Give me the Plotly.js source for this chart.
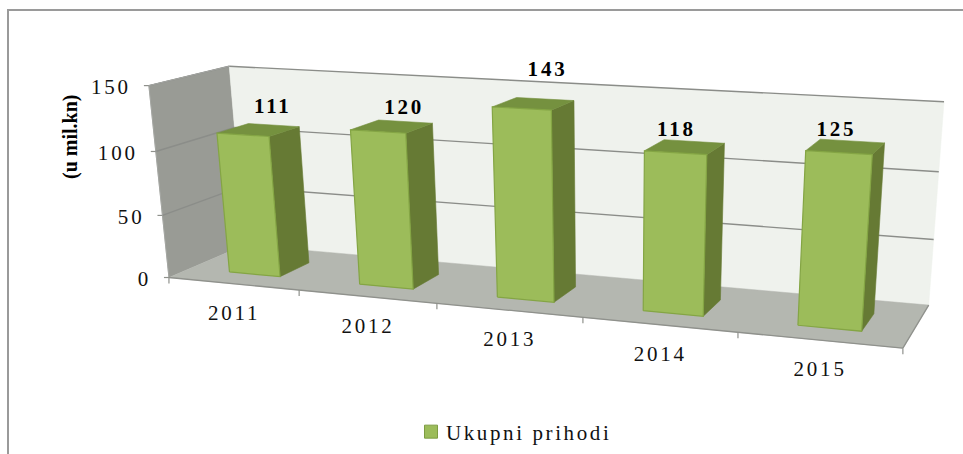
<!DOCTYPE html>
<html><head><meta charset="utf-8">
<script src="https://cdn.plot.ly/plotly-3.0.1.min.js"></script>
<style>
html,body{margin:0;padding:0;background:#fff}
#c{width:963px;height:454px}
.textpoint text{letter-spacing:2.8px}
.legendtext{letter-spacing:2.6px}
.legendsymbols{transform:translateX(5px)}
.scatterlayer .trace .fills,.scatterlayer .trace .lines{filter:blur(.5px)}
</style></head><body><div id="c"></div>
<script>
const categories=['2011','2012','2013','2014','2015'];
const revenue=[111,120,143,118,125];
const valueTicks=[0,50,100,150];
const seriesName='Ukupni prihodi';
const axisTitle='(u mil.kn)';
const valueMax=150;

// perspective camera: fitted from the box corners of the 3-D plot (category, value fraction, depth) -> page pixel
const fit=[[0,0,0,167,277],[0,1,0,151,85],[0,2/3,0,157,152],[0,1/3,0,161,216],
[0,0,1,249,244],[0,1,1,229,67],[0,2/3,1,232,127],[0,1/3,1,238,187],
[5,0,1,928,306],[5,1,1,944,101],[5,2/3,1,939,172],[5,1/3,1,934,240],
[5,0,0,903,347],[1,0,0,299,291],[2,0,0,437,304],[3,0,0,583,317],[4,0,0,738,332]];
function solveCamera(){
  const n=11,A=Array.from({length:n},()=>Array(n+1).fill(0));
  const add=(r,b)=>{for(let i=0;i<n;i++){for(let j=0;j<n;j++)A[i][j]+=r[i]*r[j];A[i][n]+=r[i]*b;}};
  fit.forEach(([X,Y,Z,u,v])=>{
    add([X,Y,Z,1,0,0,0,0,-u*X,-u*Y,-u*Z],u);
    add([0,0,0,0,X,Y,Z,1,-v*X,-v*Y,-v*Z],v);
  });
  for(let i=0;i<n;i++){
    let m=i;for(let k=i+1;k<n;k++)if(Math.abs(A[k][i])>Math.abs(A[m][i]))m=k;
    [A[i],A[m]]=[A[m],A[i]];
    for(let k=0;k<n;k++){if(k===i)continue;const f=A[k][i]/A[i][i];for(let j=i;j<=n;j++)A[k][j]-=f*A[i][j];}
  }
  return A.map((r,i)=>r[n]/r[i]);
}
const p=solveCamera();
function proj(X,v,Z){const Y=v/valueMax,w=p[8]*X+p[9]*Y+p[10]*Z+1;
  return [(p[0]*X+p[1]*Y+p[2]*Z+p[3])/w,(p[4]*X+p[5]*Y+p[6]*Z+p[7])/w];}

function poly(corners){const x=[],y=[];corners.forEach(c=>{const q=proj(...c);x.push(q[0]);y.push(q[1]);});x.push(x[0]);y.push(y[0]);return {x,y};}
function polys(list){const x=[],y=[];list.forEach(c=>{const q=poly(c);x.push(...q.x,null);y.push(...q.y,null);});return {x,y};}
const base={type:'scatter',showlegend:false,hoverinfo:'skip'};
function face(list,fill,line,w){const q=polys(list);return {...base,...q,mode:'lines',fill:'toself',fillcolor:fill,line:{color:line,width:w}};}
function seg(list,color,w){const x=[],y=[];list.forEach(([a,b])=>{const s=proj(...a),e=proj(...b);x.push(s[0],e[0],null);y.push(s[1],e[1],null);});return {...base,x,y,mode:'lines',line:{color,width:w}};}

const N=categories.length,Vm=valueMax;
const x0=0.31,x1=0.705,d0=0.27,d1=0.68;
const traces=[];
traces.push(face([[[0,0,0],[0,Vm,0],[0,Vm,1],[0,0,1]]],'#999B95','#999B95',0.5));
traces.push(face([[[0,0,1],[0,Vm,1],[N,Vm,1],[N,0,1]]],'#EFF2ED','#EFF2ED',0.5));
traces.push(face([[[0,0,0],[0,0,1],[N,0,1],[N,0,0]]],'#B4B7B0','#B4B7B0',0.5));
// gridlines
const grid=[];valueTicks.filter(v=>v>0).forEach(v=>{grid.push([[0,v,0],[0,v,1]]);grid.push([[0,v,1],[N,v,1]]);});
traces.push(seg(grid,'#8B8D89',1.4));
traces.push(seg([[[0,0,0],[0,Vm,0]],[[0,Vm,0],[0,Vm,1]]],'#A4A6A2',1));
traces.push(seg([[[0,0,0],[N,0,0]],[[N,0,0],[N,0,1]]],'#8F918C',1.3));
// bars
const side=[],top_=[],front=[];
revenue.forEach((v,i)=>{const a=i+x0,b=i+x1;
  side.push([[b,0,d0],[b,v,d0],[b,v,d1],[b,0,d1]]);
  top_.push([[a,v,d0],[a,v,d1],[b,v,d1],[b,v,d0]]);
  front.push([[a,0,d0],[a,v,d0],[b,v,d0],[b,0,d0]]);
});
traces.push(face(side,'#667A34','#667A34',0.6));
traces.push(face(top_,'#75913F','#75913F',0.6));
traces.push(face(front,'#9CBC5A','#84A544',1.2));
// axis tick marks
const tm=[];
valueTicks.forEach(v=>{const q=proj(0,v,0);tm.push({x:[q[0]-5,q[0],null],y:[q[1],q[1],null]});});
traces.push({...base,x:tm.flatMap(t=>t.x),y:tm.flatMap(t=>t.y),mode:'lines',line:{color:'#8F918C',width:1.2}});
const ct=[];for(let i=0;i<=N;i++){const q=proj(i,0,0);ct.push({x:[q[0],q[0],null],y:[q[1],q[1]+6,null]});}
traces.push({...base,x:ct.flatMap(t=>t.x),y:ct.flatMap(t=>t.y),mode:'lines',line:{color:'#8F918C',width:1.2}});

const serif='"Liberation Serif","Times New Roman",serif';
// value tick labels
const vq=valueTicks.map(v=>proj(0,v,0));
traces.push({...base,mode:'text',x:vq.map(q=>q[0]-18),y:vq.map(q=>q[1]+3),text:valueTicks.map(String),textposition:'middle left',textfont:{family:serif,size:21,color:'#111'}});
// category labels
const cq=categories.map((c,i)=>proj(i+.5,0,0));
traces.push({...base,mode:'text',x:cq.map(q=>q[0]+1),y:cq.map(q=>q[1]+31),text:categories,textposition:'middle center',textfont:{family:serif,size:21,color:'#111'}});
// data labels
const lift=[19,15,30,13,12];
const shift=[6,5,8,-13,-12];
const dq=revenue.map((v,i)=>proj(i+.5,v,.6));
traces.push({...base,mode:'text',x:dq.map((q,i)=>q[0]+shift[i]),y:dq.map((q,i)=>q[1]-lift[i]),text:revenue.map(String),textposition:'middle center',textfont:{family:serif,size:21,color:'#000',weight:700}});
// legend entry
traces.push({type:'scatter',mode:'markers',x:[null],y:[null],name:seriesName,showlegend:true,hoverinfo:'skip',marker:{symbol:'square',size:13,color:'#9CBC5A',line:{color:'#7D9C42',width:1}}});

const layout={width:963,height:454,margin:{l:0,r:0,t:0,b:0},paper_bgcolor:'#fff',plot_bgcolor:'#fff',
 xaxis:{range:[0,963],visible:false,fixedrange:true},yaxis:{range:[454,0],visible:false,fixedrange:true},
 showlegend:true,
 legend:{x:406/963,xref:'paper',yref:'paper',y:1-432/454,xanchor:'left',yanchor:'middle',font:{family:serif,size:21,color:'#111'},bgcolor:'rgba(0,0,0,0)'},
 annotations:[{text:'<b>'+axisTitle+'</b>',textangle:-90,xref:'x',yref:'y',x:70,y:137,showarrow:false,font:{family:serif,size:20,color:'#000'}}],
 shapes:[{type:'path',xref:'x',yref:'y',path:'M963,10 L8,10 L8,454',line:{color:'#9A9A9A',width:2}}]
};
Plotly.newPlot('c',traces,layout,{staticPlot:true,displayModeBar:false});
</script></body></html>
